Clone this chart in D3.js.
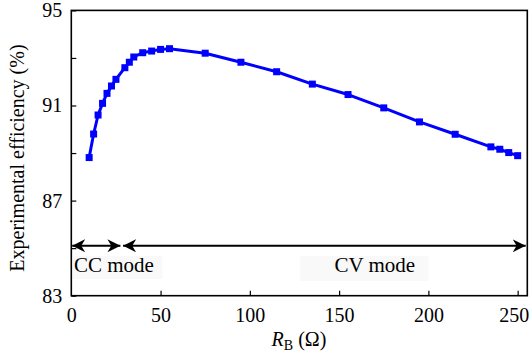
<!DOCTYPE html>
<html><head><meta charset="utf-8">
<script src="https://cdn.jsdelivr.net/npm/d3@7"></script>
<style>body{margin:0;background:#fff}svg{display:block}text{font-family:"Liberation Serif","Times New Roman",serif}</style>
</head><body><svg id="c" width="531" height="354"></svg>
<script>
const resistance = [10, 12.5, 15, 17.5, 20, 22.5, 25, 30, 32.5, 35, 40, 45, 50, 55, 75, 95, 115, 135, 155, 175, 195, 215, 235, 240, 245, 250];
const efficiency = [88.81, 89.80, 90.60, 91.09, 91.51, 91.82, 92.10, 92.59, 92.82, 93.04, 93.22, 93.29, 93.36, 93.39, 93.20, 92.82, 92.42, 91.90, 91.46, 90.90, 90.31, 89.79, 89.26, 89.16, 89.02, 88.89];
const xTicks = [0, 50, 100, 150, 200, 250];
const yTicks = [83, 85, 87, 89, 91, 93, 95];
const yTickLabels = [83, 87, 91, 95];
const modes = [{label: "CC mode", from: 0.5, to: 27.5}, {label: "CV mode", from: 29, to: 254.5}];

const W = 531, H = 354;
const m = {l: 71.3, r: 3.7, t: 10.4, b: 58.3};
const svg = d3.select("#c");
const x = d3.scaleLinear().domain([0, 255.4]).range([m.l, W - m.r]);
const y = d3.scaleLinear().domain([83, 95]).range([H - m.b, m.t]);

const defs = svg.append("defs");
defs.append("marker").attr("id", "ah").attr("viewBox", "0 0 10 10").attr("refX", 10).attr("refY", 5)
  .attr("markerWidth", 6.5).attr("markerHeight", 6.5).attr("orient", "auto-start-reverse").attr("markerUnits", "strokeWidth")
  .append("path").attr("d", "M0,0 L10,5 L0,10 L3,5 Z").attr("fill", "#000");

const xAxis = d3.axisBottom(x).tickValues(xTicks).tickSize(-5).tickPadding(12).tickFormat(d3.format("d"));
const gx = svg.append("g").attr("transform", `translate(0,${H - m.b})`).call(xAxis);
const yAxis = d3.axisLeft(y).tickValues(yTicks).tickSize(-5).tickPadding(9)
  .tickFormat(d => yTickLabels.includes(d) ? d : "");
const gy = svg.append("g").attr("transform", `translate(${m.l},0)`).call(yAxis);
[gx, gy].forEach(g => {
  g.select(".domain").remove();
  g.selectAll(".tick line").attr("stroke", "#000").attr("stroke-width", 1.2);
  g.selectAll("text").attr("font-size", 20).attr("fill", "#000").style("font-family", '"Liberation Serif",serif');
});
gx.selectAll(".tick").filter(d => d === 0).select("line").remove();
gx.selectAll(".tick").filter(d => d === 250).select("text").attr("dx", -4);

svg.append("rect").attr("x", m.l).attr("y", m.t).attr("width", W - m.r - m.l).attr("height", H - m.b - m.t)
  .attr("fill", "none").attr("stroke", "#000").attr("stroke-width", 1.6);

const modeY = 85.1;
svg.append("rect").attr("x", x(1)).attr("y", 256).attr("width", x(51) - x(1)).attr("height", 23).attr("fill", "#f9f9f9");
svg.append("rect").attr("x", x(128)).attr("y", 256).attr("width", x(200) - x(128)).attr("height", 25).attr("fill", "#f9f9f9");

modes.forEach(md => {
  svg.append("line").attr("x1", x(md.from)).attr("x2", x(md.to)).attr("y1", y(modeY)).attr("y2", y(modeY))
    .attr("stroke", "#000").attr("stroke-width", 2)
    .attr("marker-start", "url(#ah)").attr("marker-end", "url(#ah)");
});
svg.append("text").attr("x", x(1.5)).attr("y", 272).attr("font-size", 21).text(modes[0].label);
svg.append("text").attr("x", x(170)).attr("y", 272).attr("font-size", 21).attr("text-anchor", "middle").text(modes[1].label);

const pts = resistance.map((r, i) => [r, efficiency[i]]);
svg.append("path").datum(pts).attr("fill", "none").attr("stroke", "#0000ff").attr("stroke-width", 3)
  .attr("stroke-linejoin", "round")
  .attr("d", d3.line().x(d => x(d[0])).y(d => y(d[1])));
const s = 7;
svg.selectAll("rect.pt").data(pts).join("rect").attr("class", "pt")
  .attr("x", d => x(d[0]) - s / 2).attr("y", d => y(d[1]) - s / 2).attr("width", s).attr("height", s).attr("fill", "#0000ff");

svg.append("text").attr("transform", `translate(24,${(m.t + H - m.b) / 2 + 5}) rotate(-90)`)
  .attr("text-anchor", "middle").attr("font-size", 20).text("Experimental efficiency (%)");
const xt = svg.append("text").attr("x", x(127.5)).attr("y", 346).attr("text-anchor", "middle").attr("font-size", 20);
xt.append("tspan").attr("font-style", "italic").text("R");
xt.append("tspan").attr("font-size", 14).attr("dy", 4).text("B");
xt.append("tspan").attr("dy", -4).text(" (Ω)");
</script></body></html>
